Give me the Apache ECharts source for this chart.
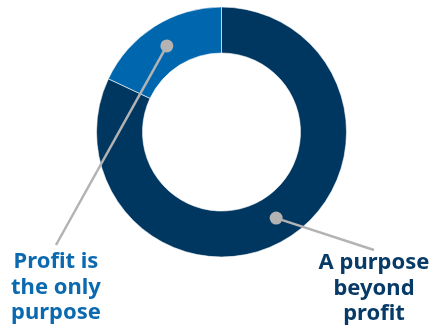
<!DOCTYPE html>
<html>
<head>
<meta charset="utf-8">
<title>Purpose of business</title>
<script src="https://cdn.jsdelivr.net/npm/echarts@6/dist/echarts.min.js"></script>
<style>
	html, body { margin: 0; padding: 0; background: #fff; }
	#main { width: 433px; height: 327px; }
</style>
</head>
<body>
<div id="main"></div>
<script>
	// data
	var categories = ['A purpose beyond profit', 'Profit is the only purpose'];
	var labels = ['A purpose\nbeyond\nprofit', 'Profit is\nthe only\npurpose'];
	var values = [82, 18];

	var colors = ['#003761', '#0067ae'];
	var textColors = ['#073a66', '#0b69b0'];
	var grey = '#b3b3b3';

	/* layout */
	var center = [221.5, 132];
	var innerR = 79, outerR = 125;
	var dotR = (innerR + outerR) / 2;
	// where each connector meets its label (top centre of the text block)
	var labelAnchor = [[374, 250], [56, 245]];
	var labelTop = [250, 249];

	var total = values.reduce(function(a, b) { return a + b; }, 0);

	// middle of each slice, on the polar angle axis
	var dots = [];
	var acc = 0;
	for (var i = 0; i < values.length; i++) {
		dots.push([dotR, acc + values[i] / 2]);
		acc += values[i];
	}

	var myChart = echarts.init(document.getElementById('main'));

	myChart.setOption({
		animation: false,
		polar: {
			center: center,
			radius: outerR
		},
		radiusAxis: { min: 0, max: outerR, show: false },
		angleAxis: { min: 0, max: total, startAngle: 90, clockwise: true, show: false },
		series: [{
			type: 'pie',
			z: 1,
			center: center,
			radius: [innerR, outerR],
			startAngle: 90,
			clockwise: true,
			silent: true,
			label: { show: false },
			labelLine: { show: false },
			itemStyle: { borderColor: '#ffffff', borderWidth: 0.6 },
			data: categories.map(function(name, i) {
				return { name: name, value: values[i], itemStyle: { color: colors[i] } };
			})
		}, {
			type: 'custom',
			z: 10,
			coordinateSystem: 'polar',
			silent: true,
			data: dots,
			renderItem: function(params, api) {
				var idx = params.dataIndex;
				var p = api.coord([api.value(0), api.value(1)]);
				var a = labelAnchor[idx];
				return {
					type: 'group',
					children: [{
						type: 'line',
						shape: { x1: p[0], y1: p[1], x2: a[0], y2: a[1] },
						style: { stroke: grey, lineWidth: 2.5 }
					}, {
						type: 'circle',
						shape: { cx: p[0], cy: p[1], r: 6.5 },
						style: { fill: grey }
					}, {
						type: 'text',
						x: a[0],
						y: labelTop[idx],
						style: {
							text: labels[idx],
							fill: textColors[idx],
							font: 'bold 22px "Noto Sans"',
							lineHeight: 25.5,
							align: 'center',
							verticalAlign: 'top'
						}
					}]
				};
			}
		}]
	});
</script>
</body>
</html>
